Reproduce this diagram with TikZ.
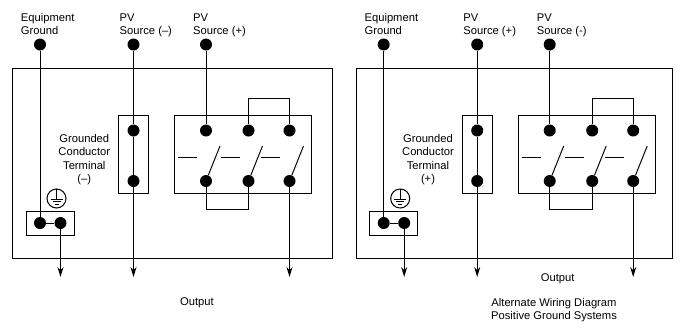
\documentclass[tikz,border=0pt]{standalone}
\usepackage{fontspec}
\setmainfont{Liberation Sans}
\usetikzlibrary{arrows.meta}
\tikzset{
	dot/.style={circle,fill=black,inner sep=0pt,minimum size=12pt},
	wire/.style={line width=1pt},
	thinbox/.style={draw,line width=1pt,inner sep=0pt},
	txt/.style={inner sep=0pt,align=center,font=\fontsize{11.2}{13.3}\selectfont},
	txtl/.style={txt,align=left,anchor=north west}
}
\begin{document}
\begin{tikzpicture}[x=1pt,y=-1pt,line join=miter,>=stealth]
	\useasboundingbox (0,0) rectangle (680,327);
	\fill[white] (0,0) rectangle (680,327);
	% both panels
	\foreach \px/\pw/\pname/\srca/\srcb/\gnd in {0/320/L/{(--)}/{(+)}/{(--)},343.7/316/R/{(+)}/{(-)}/{(+)}}{
		\begin{scope}[xshift=\px pt,name prefix=\pname-]
			\draw[wire] (12.3,68.5) rectangle ++(\pw,189.5);
			\node[thinbox,minimum width=30,minimum height=77.5] (fuse) at (133.5,154.5) {};
			\node[thinbox,minimum width=137.5,minimum height=77.5] (sw) at (243.2,154.5) {};
			\node[thinbox,minimum width=48,minimum height=24] (gbox) at (50.2,223) {};
			% terminals
			\node[dot] (eg) at (40,44.5) {};
			\node[dot] (pa) at (133.5,44.5) {};
			\node[dot] (pb) at (206,44.5) {};
			\node[dot] (g1) at (40,223) {};
			\node[dot] (g2) at (60.5,223) {};
			\node[dot] (f1) at (133.5,130.5) {};
			\node[dot] (f2) at (133.5,181) {};
			\node[dot] (t1) at (206,130.5) {};
			\node[dot] (t2) at (248.5,130.5) {};
			\node[dot] (t3) at (289.5,130.5) {};
			\node[dot] (b1) at (206,181) {};
			\node[dot] (b2) at (248.5,181) {};
			\node[dot] (b3) at (289.5,181) {};
			\coordinate (o1) at (60.5,277);
			\coordinate (o2) at (133.5,277);
			\coordinate (o3) at (289.5,277);
			\coordinate (c1) at (248.5,98);
			\coordinate (c2) at (206,209.5);
			% wires
			\draw[wire] (eg)--(g1)--(g2);
			\draw[wire] (pa)--(f1)--(f2);
			\draw[wire] (pb)--(t1);
			\draw[wire] (t2)--(c1) -| (t3);
			\draw[wire] (b1)--(c2) -| (b2);
			\draw[wire,-{Stealth[length=10pt,width=6pt]}] (g2)--(o1);
			\draw[wire,-{Stealth[length=10pt,width=6pt]}] (f2)--(o2);
			\draw[wire,-{Stealth[length=10pt,width=6pt]}] (b3)--(o3);
			% switches
			\foreach \sx/\bx in {178/b1,221/b2,261/b3}{
				\draw[wire] (\sx,157.5)--++(19,0);
				\draw[wire] (\bx)--++(14,-35);
			}
			% ground symbol
			\node[draw,circle,line width=1pt,inner sep=0pt,minimum size=19pt] (gs) at (56.5,198.5) {};
			\draw[wire] (gs.north)--(56.5,199);
			\draw[wire] (50.5,199)--(62.5,199);
			\draw[wire] (52.5,201.5)--(60.5,201.5);
			\draw[wire] (54.5,204)--(58.5,204);
			% labels
			\node[txtl] (leg) at (20.7,13.2) {Equipment\\Ground};
			\node[txtl] (lpa) at (119.5,13.2) {PV\\Source \srca};
			\node[txtl] (lpb) at (193,13.2) {PV\\Source \srcb};
			\node[txt] (lgc) at (84.3,159.7) {Grounded\\Conductor\\Terminal\\\gnd};
		\end{scope}
	}
	\node[txt] (outl) at (197,303) {Output};
	\node[txt] (outr) at (557.7,279) {Output};
	\node[txt] (alt) at (554,309.8) {Alternate Wiring Diagram\\Positive Ground Systems};
\end{tikzpicture}
\end{document}
